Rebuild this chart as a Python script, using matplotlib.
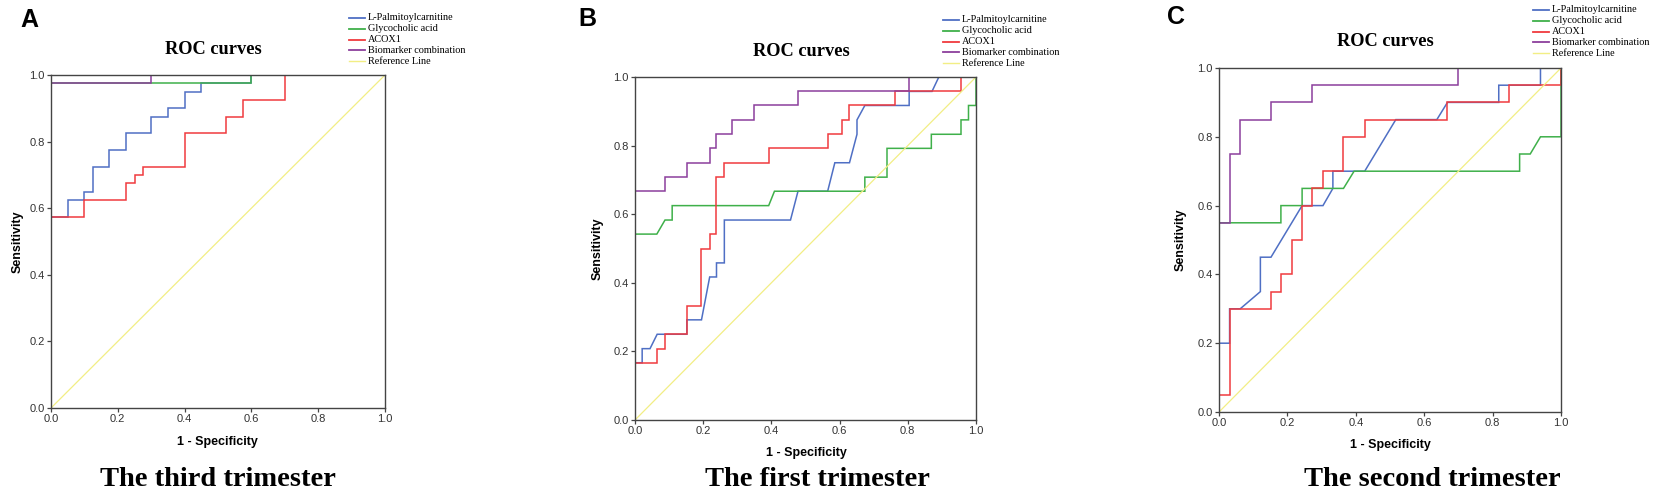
import matplotlib
matplotlib.use("Agg")
import matplotlib.pyplot as plt
from matplotlib.lines import Line2D

W, H = 1654, 497

# legend / series names
names = ["L-Palmitoylcarnitine", "Glycocholic acid", "ACOX1",
         "Biomarker combination", "Reference Line"]
colors = ["#4f6fc4", "#3fb04a", "#f03a3e", "#8c3f9c", "#f2ee84"]

panel_letters = ["A", "B", "C"]
subtitles = ["The third trimester", "The first trimester", "The second trimester"]

ref_x = [0.0, 1.0]
ref_y = [0.0, 1.0]

# ---- A : third trimester (1 - specificity, sensitivity) ----
a_pal_x = [0, 0, 0.05, 0.05, 0.10, 0.10, 0.125, 0.125, 0.175, 0.175, 0.225, 0.225,
           0.30, 0.30, 0.35, 0.35, 0.40, 0.40, 0.45, 0.45, 0.60, 0.60, 1.0]
a_pal_y = [0, 0.575, 0.575, 0.625, 0.625, 0.65, 0.65, 0.725, 0.725, 0.775, 0.775, 0.825,
           0.825, 0.875, 0.875, 0.90, 0.90, 0.95, 0.95, 0.975, 0.975, 1.0, 1.0]
a_gly_x = [0, 0, 0.60, 0.60, 1.0]
a_gly_y = [0, 0.975, 0.975, 1.0, 1.0]
a_acox_x = [0, 0, 0.10, 0.10, 0.225, 0.225, 0.25, 0.25, 0.275, 0.275, 0.40, 0.40,
            0.525, 0.525, 0.575, 0.575, 0.70, 0.70, 1.0]
a_acox_y = [0, 0.575, 0.575, 0.625, 0.625, 0.675, 0.675, 0.70, 0.70, 0.725, 0.725, 0.825,
            0.825, 0.875, 0.875, 0.925, 0.925, 1.0, 1.0]
a_comb_x = [0, 0, 0.30, 0.30, 1.0]
a_comb_y = [0, 0.975, 0.975, 1.0, 1.0]

# ---- B : first trimester ----
b_pal_x = [0, 0, 0.021, 0.021, 0.044, 0.065, 0.152, 0.152, 0.195, 0.219, 0.239, 0.239,
           0.262, 0.262, 0.456, 0.478, 0.565, 0.586, 0.629, 0.651, 0.651, 0.674, 0.804,
           0.804, 0.871, 0.891, 1.0]
b_pal_y = [0, 0.167, 0.167, 0.208, 0.208, 0.25, 0.25, 0.292, 0.292, 0.417, 0.417, 0.458,
           0.458, 0.583, 0.583, 0.667, 0.667, 0.75, 0.75, 0.833, 0.875, 0.917, 0.917,
           0.958, 0.958, 1.0, 1.0]
b_gly_x = [0, 0, 0.064, 0.088, 0.109, 0.109, 0.392, 0.409, 0.674, 0.674, 0.739, 0.739,
           0.869, 0.869, 0.956, 0.956, 0.978, 0.978, 1.0, 1.0]
b_gly_y = [0, 0.542, 0.542, 0.583, 0.583, 0.625, 0.625, 0.667, 0.667, 0.708, 0.708, 0.792,
           0.792, 0.833, 0.833, 0.875, 0.875, 0.917, 0.917, 1.0]
b_acox_x = [0, 0, 0.065, 0.065, 0.088, 0.088, 0.152, 0.152, 0.195, 0.195, 0.219, 0.219,
            0.239, 0.239, 0.262, 0.262, 0.392, 0.392, 0.565, 0.565, 0.608, 0.608,
            0.629, 0.629, 0.763, 0.763, 0.956, 0.956, 1.0]
b_acox_y = [0, 0.167, 0.167, 0.208, 0.208, 0.25, 0.25, 0.333, 0.333, 0.5, 0.5, 0.542,
            0.542, 0.708, 0.708, 0.75, 0.75, 0.792, 0.792, 0.833, 0.833, 0.875,
            0.875, 0.917, 0.917, 0.958, 0.958, 1.0, 1.0]
b_comb_x = [0, 0, 0.088, 0.088, 0.152, 0.152, 0.219, 0.219, 0.239, 0.239, 0.283, 0.283,
            0.349, 0.349, 0.478, 0.478, 0.804, 0.804, 1.0]
b_comb_y = [0, 0.667, 0.667, 0.708, 0.708, 0.75, 0.75, 0.792, 0.792, 0.833, 0.833, 0.875,
            0.875, 0.917, 0.917, 0.958, 0.958, 1.0, 1.0]

# ---- C : second trimester ----
c_pal_x = [0, 0, 0.031, 0.031, 0.062, 0.121, 0.121, 0.152, 0.243, 0.304, 0.333, 0.333,
           0.426, 0.517, 0.637, 0.668, 0.818, 0.818, 0.94, 0.94, 1.0]
c_pal_y = [0, 0.20, 0.20, 0.30, 0.30, 0.35, 0.45, 0.45, 0.60, 0.60, 0.65, 0.70,
           0.70, 0.85, 0.85, 0.90, 0.90, 0.95, 0.95, 1.0, 1.0]
c_gly_x = [0, 0, 0.181, 0.181, 0.243, 0.243, 0.364, 0.395, 0.879, 0.879, 0.910, 0.94, 1.0, 1.0]
c_gly_y = [0, 0.55, 0.55, 0.60, 0.60, 0.65, 0.65, 0.70, 0.70, 0.75, 0.75, 0.80, 0.80, 1.0]
c_acox_x = [0, 0, 0.031, 0.031, 0.152, 0.152, 0.181, 0.181, 0.212, 0.212, 0.243, 0.243,
            0.273, 0.273, 0.304, 0.304, 0.364, 0.364, 0.426, 0.426, 0.668, 0.668,
            0.849, 0.849, 1.0, 1.0]
c_acox_y = [0, 0.05, 0.05, 0.30, 0.30, 0.35, 0.35, 0.40, 0.40, 0.50, 0.50, 0.60,
            0.60, 0.65, 0.65, 0.70, 0.70, 0.80, 0.80, 0.85, 0.85, 0.90,
            0.90, 0.95, 0.95, 1.0]
c_comb_x = [0, 0, 0.031, 0.031, 0.062, 0.062, 0.152, 0.152, 0.273, 0.273, 0.698, 0.698, 1.0]
c_comb_y = [0, 0.55, 0.55, 0.75, 0.75, 0.85, 0.85, 0.90, 0.90, 0.95, 0.95, 1.0, 1.0]

curves = [
    [(a_pal_x, a_pal_y), (a_gly_x, a_gly_y), (a_acox_x, a_acox_y), (a_comb_x, a_comb_y)],
    [(b_pal_x, b_pal_y), (b_gly_x, b_gly_y), (b_acox_x, b_acox_y), (b_comb_x, b_comb_y)],
    [(c_pal_x, c_pal_y), (c_gly_x, c_gly_y), (c_acox_x, c_acox_y), (c_comb_x, c_comb_y)],
]
ticks = [0.0, 0.2, 0.4, 0.6, 0.8, 1.0]

# layout in pixels of the 1654x497 picture: axes box (x0, x1, ytop, ybottom)
boxes = [(51, 385, 75, 408), (635, 976, 77, 420), (1219, 1561, 68, 412)]
letter_pos = [(29, 20), (587, 19), (1176, 17)]
title_pos = [(213, 49), (801, 52), (1385, 42)]
legend_pos = [(349, 18), (943, 20), (1533, 10)]   # line start x, first row y
ylab_x = [18, 598, 1181]
xlab_pos = [(217, 442), (806, 453), (1390, 445)]
sub_pos = [(218, 480), (817, 480), (1432, 480)]

serif = "Liberation Serif"
sans = "Liberation Sans"

fig = plt.figure(figsize=(W / 100, H / 100), dpi=100)


def fx(px):
    return px / W


def fy(py):
    return 1 - py / H


for i in range(3):
    x0, x1, yt, yb = boxes[i]
    ax = fig.add_axes([fx(x0), fy(yb), fx(x1 - x0), (yb - yt) / H])
    for (xs, ys), c in zip(curves[i], colors[:4]):
        ax.plot(xs, ys, color=c, lw=1.1, solid_joinstyle="miter")
    ax.plot(ref_x, ref_y, color=colors[4], lw=0.9)

    ax.set_xlim(0, 1)
    ax.set_ylim(0, 1)
    ax.set_xticks(ticks)
    ax.set_yticks(ticks)
    ax.set_xticklabels(["%.1f" % t for t in ticks], family=sans, fontsize=8, color="#333333")
    ax.set_yticklabels(["%.1f" % t for t in ticks], family=sans, fontsize=8, color="#333333")
    ax.tick_params(direction="out", length=3, width=0.9, color="#444444", pad=1.5)
    for s in ax.spines.values():
        s.set_color("#444444")
        s.set_linewidth(1.0)

    # texts around each panel
    fig.text(fx(letter_pos[i][0]), fy(letter_pos[i][1]), panel_letters[i],
             family=sans, weight="bold", fontsize=18, ha="center", va="center")
    fig.text(fx(title_pos[i][0]), fy(title_pos[i][1]), "ROC curves",
             family=serif, weight="bold", fontsize=13.2, ha="center", va="center")
    fig.text(fx(ylab_x[i]), fy((yt + yb) / 2), "Sensitivity", rotation=90,
             family=sans, weight="bold", fontsize=9, ha="center", va="center")
    fig.text(fx(xlab_pos[i][0]), fy(xlab_pos[i][1]), "1 - Specificity",
             family=sans, weight="bold", fontsize=9, ha="center", va="center")
    fig.text(fx(sub_pos[i][0]), fy(sub_pos[i][1]), subtitles[i],
             family=serif, weight="bold", fontsize=20.5, ha="center", va="center")

    # legend drawn row by row
    lx, ly = legend_pos[i]
    for k in range(5):
        yk = ly + k * 10.8
        fig.add_artist(Line2D([fx(lx), fx(lx + 16)], [fy(yk), fy(yk)],
                              color=colors[k], lw=1.3 if k < 4 else 1.0))
        fig.text(fx(lx + 19), fy(yk), names[k], family=serif, fontsize=7.4,
                 ha="left", va="center")

fig.savefig("out.png", dpi=100)
